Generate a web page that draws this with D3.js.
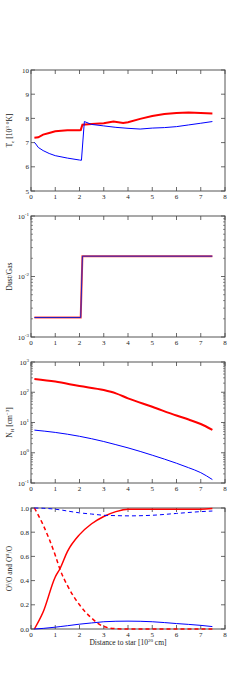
<!DOCTYPE html>
<html>
<head>
<meta charset="utf-8">
<script src="https://cdn.jsdelivr.net/npm/d3@7"></script>
<style>
  body { margin: 0; background: #fff; }
  text { font-family: "Liberation Serif", "DejaVu Serif", serif; fill: #222; }
</style>
</head>
<body>
<div id="chart"></div>
<script>
// x positions (10^20 cm) shared by the smooth curves
var xTicks = [0, 1, 2, 3, 4, 5, 6, 7, 8];

// panel 1: electron temperature [10^3 K]
var tempRedX = [0.14, 0.3, 0.5, 0.75, 1, 1.5, 2, 2.05, 2.12, 2.5, 3, 3.4, 3.8, 4, 4.5, 5, 5.5, 6, 6.5, 7, 7.48];
var tempRed  = [7.2, 7.22, 7.33, 7.4, 7.47, 7.51, 7.51, 7.52, 7.74, 7.77, 7.8, 7.87, 7.81, 7.84, 7.98, 8.1, 8.18, 8.22, 8.24, 8.22, 8.2];
var tempBlueX = [0.14, 0.2, 0.3, 0.5, 0.75, 1, 1.5, 2, 2.08, 2.2, 2.5, 3, 3.5, 4, 4.5, 5, 5.5, 6, 6.5, 7, 7.48];
var tempBlue  = [7.01, 6.94, 6.8, 6.67, 6.55, 6.46, 6.36, 6.28, 6.27, 7.87, 7.75, 7.69, 7.63, 7.59, 7.56, 7.6, 7.62, 7.66, 7.73, 7.8, 7.87];

// panel 2: dust to gas ratio
var dustX = [0.14, 2.05, 2.12, 7.48];
var dustRed  = [0.0021, 0.0021, 0.0217, 0.0217];
var dustBlue = [0.0021, 0.0021, 0.0217, 0.0217];

// panel 3: hydrogen density [cm^-3]
var densX = [0.14, 1, 2, 3, 3.5, 4, 5, 6, 6.5, 7, 7.48];
var densRed  = [273, 225, 160, 118, 92, 63, 33, 17, 12.5, 8.9, 5.7];
var densBlue = [5.6, 4.7, 3.5, 2.35, 1.85, 1.45, 0.83, 0.45, 0.32, 0.22, 0.13];

// panel 4: ionisation fractions
var ionX = [0.14, 0.5, 1, 1.2, 1.5, 2, 2.5, 3, 3.5, 4, 5, 6, 7, 7.48];
var ionRedSolid  = [0.0, 0.14, 0.43, 0.5, 0.64, 0.78, 0.87, 0.93, 0.97, 0.99, 0.99, 0.99, 0.99, 0.995];
var ionRedDash   = [1.0, 0.86, 0.61, 0.49, 0.36, 0.2, 0.09, 0.02, 0.003, 0.0, 0.0, 0.0, 0.0, 0.0];
var ionBlueSolid = [0.0, 0.005, 0.015, 0.02, 0.027, 0.04, 0.05, 0.06, 0.064, 0.065, 0.06, 0.045, 0.03, 0.02];
var ionBlueDash  = [1.0, 0.998, 0.99, 0.985, 0.975, 0.96, 0.95, 0.94, 0.937, 0.935, 0.94, 0.955, 0.97, 0.975];

var W = 250, H = 700;
var left = 31, right = 225;
var panelTops = [70, 216, 362, 508];
var panelH = 121;

var svg = d3.select("#chart").append("svg")
    .attr("width", W).attr("height", H);

var xScale = d3.scaleLinear().domain([0, 8]).range([left, right]);

function sup(sel, base, exp, tail) {
  sel.append("tspan").text(base);
  sel.append("tspan").attr("dy", -3).attr("font-size", "5px").text(exp);
  if (tail) sel.append("tspan").attr("dy", 3).text(tail);
}

function drawPanel(i, cfg) {
  var top = panelTops[i], bottom = top + panelH;
  var g = svg.append("g");
  var y = cfg.log ? d3.scaleLog() : d3.scaleLinear();
  y.domain(cfg.domain).range([bottom, top]);

  // frame
  g.append("rect")
    .attr("x", left).attr("y", top)
    .attr("width", right - left).attr("height", panelH)
    .attr("fill", "none").attr("stroke", "#555").attr("stroke-width", 1);

  // x ticks, inward on bottom and top
  xTicks.forEach(function(t) {
    var x = xScale(t);
    g.append("line").attr("x1", x).attr("x2", x).attr("y1", bottom).attr("y2", bottom - 4)
      .attr("stroke", "#444").attr("stroke-width", 0.8);
    g.append("line").attr("x1", x).attr("x2", x).attr("y1", top).attr("y2", top + 4)
      .attr("stroke", "#444").attr("stroke-width", 0.8);
    g.append("text").attr("x", x).attr("y", bottom + 8)
      .attr("text-anchor", "middle").attr("font-size", "7px").text(t);
  });

  // y ticks
  cfg.yTicks.forEach(function(t) {
    var yy = y(t);
    g.append("line").attr("x1", left).attr("x2", left + 4).attr("y1", yy).attr("y2", yy)
      .attr("stroke", "#444").attr("stroke-width", 0.8);
    g.append("line").attr("x1", right).attr("x2", right - 4).attr("y1", yy).attr("y2", yy)
      .attr("stroke", "#444").attr("stroke-width", 0.8);
    var lab = g.append("text").attr("x", left - 2).attr("y", yy + 2.5)
      .attr("text-anchor", "end").attr("font-size", "7px");
    if (cfg.log) {
      sup(lab, "10", String(Math.round(Math.log10(t))));
    } else {
      lab.text(cfg.fmt ? cfg.fmt(t) : t);
    }
  });

  // log minor ticks
  if (cfg.log) {
    var lo = Math.round(Math.log10(cfg.domain[0])), hi = Math.round(Math.log10(cfg.domain[1]));
    for (var e = lo; e < hi; e++) {
      for (var m = 2; m < 10; m++) {
        var yy = y(m * Math.pow(10, e));
        g.append("line").attr("x1", left).attr("x2", left + 2).attr("y1", yy).attr("y2", yy)
          .attr("stroke", "#444").attr("stroke-width", 0.6);
        g.append("line").attr("x1", right).attr("x2", right - 2).attr("y1", yy).attr("y2", yy)
          .attr("stroke", "#444").attr("stroke-width", 0.6);
      }
    }
  }

  // curves
  cfg.series.forEach(function(s) {
    var pts = s.x.map(function(d, k) { return [d, s.y[k]]; });
    var line = d3.line()
      .x(function(d) { return xScale(d[0]); })
      .y(function(d) { return y(d[1]); })
      .curve(s.curve || d3.curveLinear);
    g.append("path").datum(pts)
      .attr("d", line)
      .attr("fill", "none")
      .attr("stroke", s.color)
      .attr("stroke-width", s.width)
      .attr("stroke-dasharray", s.dash || null);
  });

  // y label
  var yl = g.append("text")
    .attr("transform", "translate(12," + (top + panelH / 2) + ") rotate(-90)")
    .attr("text-anchor", "middle").attr("font-size", "7.5px");
  cfg.label(yl);
}

drawPanel(0, {
  domain: [5, 10], yTicks: [5, 6, 7, 8, 9, 10],
  series: [
    {x: tempRedX, y: tempRed, color: "#ff0000", width: 2},
    {x: tempBlueX, y: tempBlue, color: "#0000ff", width: 1}
  ],
  label: function(t) {
    t.append("tspan").text("T");
    t.append("tspan").attr("dy", 2).attr("font-size", "5px").text("e");
    t.append("tspan").attr("dy", -2).text(" [10");
    t.append("tspan").attr("dy", -3).attr("font-size", "5px").text("3");
    t.append("tspan").attr("dy", 3).text(" \u00B0K]");
  }
});

drawPanel(1, {
  log: true, domain: [0.001, 0.1], yTicks: [0.001, 0.01, 0.1],
  series: [
    {x: dustX, y: dustRed, color: "#ff4040", width: 2},
    {x: dustX, y: dustBlue, color: "#2020c0", width: 1}
  ],
  label: function(t) { t.text("Dust/Gas"); }
});

drawPanel(2, {
  log: true, domain: [0.1, 1000], yTicks: [0.1, 1, 10, 100, 1000],
  series: [
    {x: densX, y: densRed, color: "#ff0000", width: 2, curve: d3.curveMonotoneX},
    {x: densX, y: densBlue, color: "#0000ff", width: 1, curve: d3.curveMonotoneX}
  ],
  label: function(t) {
    t.append("tspan").text("N");
    t.append("tspan").attr("dy", 2).attr("font-size", "5px").text("H");
    t.append("tspan").attr("dy", -2).text(" [cm");
    t.append("tspan").attr("dy", -3).attr("font-size", "5px").text("\u22123");
    t.append("tspan").attr("dy", 3).text("]");
  }
});

drawPanel(3, {
  domain: [0, 1], yTicks: [0, 0.2, 0.4, 0.6, 0.8, 1.0],
  fmt: function(d) { return d3.format(".1f")(d); },
  series: [
    {x: ionX, y: ionRedSolid, color: "#ff0000", width: 1.5, curve: d3.curveMonotoneX},
    {x: ionX, y: ionRedDash, color: "#ff0000", width: 1.5, dash: "4,3", curve: d3.curveMonotoneX},
    {x: ionX, y: ionBlueSolid, color: "#0000ff", width: 1, curve: d3.curveMonotoneX},
    {x: ionX, y: ionBlueDash, color: "#0000ff", width: 1, dash: "4,3", curve: d3.curveMonotoneX}
  ],
  label: function(t) {
    t.append("tspan").text("O");
    t.append("tspan").attr("dy", -3).attr("font-size", "5px").text("I");
    t.append("tspan").attr("dy", 3).text("/O and O");
    t.append("tspan").attr("dy", -3).attr("font-size", "5px").text("II");
    t.append("tspan").attr("dy", 3).text("/O");
  }
});

// shared x label
var xl = svg.append("text").attr("x", (left + right) / 2).attr("y", panelTops[3] + panelH + 16)
  .attr("text-anchor", "middle").attr("font-size", "7.5px");
xl.append("tspan").text("Distance to star [10");
xl.append("tspan").attr("dy", -3).attr("font-size", "5px").text("20");
xl.append("tspan").attr("dy", 3).text(" cm]");
</script>
</body>
</html>
